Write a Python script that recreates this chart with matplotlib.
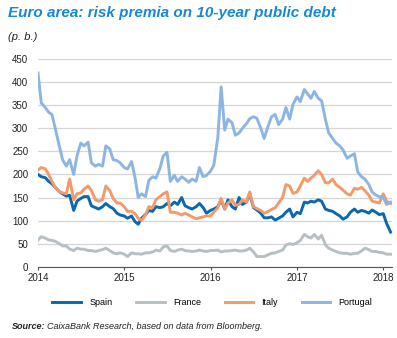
import matplotlib
matplotlib.use("Agg")
import matplotlib.pyplot as plt
import matplotlib.dates as mdates
import pandas as pd

# semi-monthly readings, Jan 2014 - Feb 2018 (basis points)
dates = pd.date_range("2014-01-01", periods=99, freq="SMS")

spain = [200, 195, 193, 185, 180, 172, 163, 158, 153, 155, 122, 142, 148, 152, 152, 132,
         128, 125, 130, 137, 130, 126, 116, 112, 110, 105, 110, 98, 92, 105, 113, 122,
         120, 130, 128, 130, 137, 132, 140, 135, 150, 132, 128, 125, 130, 137, 128, 116,
         122, 125, 130, 145, 125, 145, 130, 125, 150, 135, 140, 158, 128, 123, 116, 106,
         106, 108, 101, 105, 110, 118, 125, 108, 118, 115, 140, 138, 142, 140, 145, 142,
         125, 122, 120, 115, 110, 103, 108, 118, 125, 118, 122, 120, 116, 123, 118, 113,
         115, 94, 75]
france = [58, 65, 62, 58, 57, 55, 50, 45, 45, 38, 35, 40, 38, 38, 35, 35,
          33, 35, 37, 40, 35, 30, 28, 30, 27, 22, 30, 28, 28, 27, 30, 30,
          32, 36, 34, 43, 45, 35, 33, 36, 38, 35, 34, 33, 34, 36, 34, 33,
          35, 35, 36, 32, 34, 34, 35, 36, 34, 34, 36, 40, 32, 22, 22, 22,
          26, 29, 30, 33, 36, 47, 50, 48, 52, 57, 70, 65, 62, 70, 60, 68,
          48, 40, 36, 33, 30, 29, 29, 27, 29, 29, 34, 40, 37, 33, 33, 31,
          30, 27, 27]
italy = [210, 215, 212, 200, 185, 172, 163, 160, 158, 190, 145, 158, 160, 168, 175, 165,
         145, 142, 145, 175, 165, 148, 138, 138, 130, 120, 120, 115, 105, 100, 112, 130,
         128, 145, 152, 158, 162, 118, 118, 116, 112, 116, 112, 108, 104, 106, 108, 110,
         110, 118, 128, 148, 125, 138, 145, 133, 135, 145, 140, 162, 130, 126, 122, 116,
         120, 124, 128, 138, 150, 178, 175, 159, 162, 175, 192, 185, 192, 198, 208, 200,
         182, 182, 190, 178, 172, 166, 158, 155, 170, 168, 172, 165, 155, 142, 140, 138,
         158, 142, 137]
portugal = [420, 355, 345, 335, 330, 300, 262, 232, 218, 232, 200, 240, 268, 262, 270, 225,
            218, 222, 218, 262, 255, 232, 230, 225, 215, 212, 228, 195, 150, 158, 152, 187,
            195, 192, 213, 240, 248, 185, 198, 185, 195, 190, 183, 190, 185, 215, 195, 198,
            207, 220, 280, 390, 296, 320, 312, 285, 290, 300, 310, 321, 325, 322, 300, 278,
            305, 325, 330, 308, 320, 345, 320, 352, 368, 358, 384, 375, 365, 380, 365, 360,
            320, 290, 278, 268, 262, 253, 235, 240, 245, 205, 195, 190, 178, 162, 155, 152,
            150, 135, 140]

series = [("Spain", spain, "#0a67b0"),
          ("France", france, "#b6c0c4"),
          ("Italy", italy, "#f29a6c"),
          ("Portugal", portugal, "#8db5e3")]

plt.rcParams["font.family"] = ["Liberation Sans", "DejaVu Sans"]

fig = plt.figure(figsize=(3.97, 3.38), dpi=100)
ax = fig.add_axes([0.0957, 0.211, 0.8917, 0.614])

for name, vals, col in series:
    ax.plot(dates, vals, color=col, lw=2.1, label=name, solid_joinstyle="round")

ax.set_ylim(0, 450)
ax.set_yticks(range(0, 451, 50))
ax.set_xlim(pd.Timestamp("2014-01-01"), pd.Timestamp("2018-02-07"))
ax.xaxis.set_major_locator(mdates.YearLocator())
ax.xaxis.set_major_formatter(mdates.DateFormatter("%Y"))

ax.grid(axis="y", color="#d5d5d5", lw=0.9)
ax.set_axisbelow(True)
for s in ("top", "right", "left"):
    ax.spines[s].set_visible(False)
ax.spines["bottom"].set_color("#555555")
ax.spines["bottom"].set_linewidth(0.8)
ax.tick_params(axis="y", length=0, pad=7, labelsize=7, labelcolor="#222222")
ax.tick_params(axis="x", length=2.5, width=0.8, color="#555555", pad=2,
               labelsize=7, labelcolor="#222222")

fig.text(0.021, 0.962, "Euro area: risk premia on 10-year public debt", color="#1789d2",
         fontsize=11, fontweight="bold", fontstyle="italic", va="center", ha="left")
fig.text(0.021, 0.89, "(p. b.)", fontsize=8, fontstyle="italic", va="center", ha="left",
         color="#222222")

fig.legend(loc="center", bbox_to_anchor=(0.535, 0.104), ncol=4, frameon=False,
           fontsize=6.5, handlelength=3.2, handletextpad=0.9, columnspacing=2.6)

fig.text(0.031, 0.035, "Source:", fontsize=6.5, fontweight="bold", fontstyle="italic",
         va="center", ha="left", color="#222222")
fig.text(0.118, 0.035, "CaixaBank Research, based on data from Bloomberg.", fontsize=6.5,
         fontstyle="italic", va="center", ha="left", color="#222222")

fig.savefig("out.png", dpi=100)
